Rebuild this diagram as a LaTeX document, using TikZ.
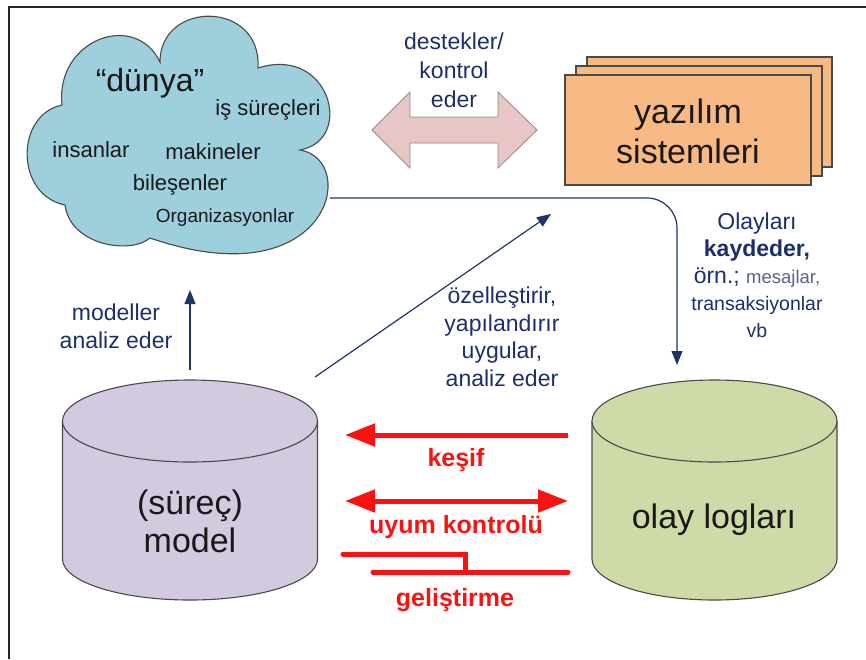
\documentclass[tikz,border=0pt]{standalone}
\usepackage{fontspec}
\setmainfont{Liberation Sans}
\usetikzlibrary{arrows.meta}

\definecolor{cloudblue}{HTML}{9DCFDC}
\definecolor{pinkfill}{HTML}{E8C6C6}
\definecolor{orangefill}{HTML}{F8BA84}
\definecolor{purplefill}{HTML}{D4CADF}
\definecolor{greenfill}{HTML}{CEDAA8}
\definecolor{navytxt}{HTML}{1C2E6C}
\definecolor{navyline}{HTML}{1F3566}
\definecolor{grayline}{HTML}{6C7699}
\definecolor{edge}{HTML}{4A4A4A}
\definecolor{redline}{HTML}{FF1010}

\begin{document}
\begin{tikzpicture}[x=1pt,y=-1pt,
  lbl/.style={text=navytxt, align=center, inner sep=0pt, font=\fontsize{23}{28}\selectfont},
  dark/.style={text=black!90, inner sep=0pt, align=center},
  redlbl/.style={text=redline, inner sep=0pt, font=\bfseries\fontsize{25}{30}\selectfont},
  navyarrow/.style={draw=navyline, line width=1.2pt, -{Triangle[length=14pt,width=11pt]}},
  redarrow/.style={draw=redline, line width=5pt},
  redtip/.style={{Triangle[length=30pt,width=22pt]}},
  boxedge/.style={draw=edge, line width=1.1pt},
]
\useasboundingbox (0,0) rectangle (866,659);

% frame lines at the top and left
\draw[black!85, line width=1.6pt] (866,7) -- (9,7) -- (9,659);

% the "world" cloud
\draw[boxedge, fill=cloudblue]
  (62,105) .. controls (55,40) and (135,10) .. (160,62)
  .. controls (160,0) and (262,0) .. (258,68)
  .. controls (330,45) and (355,140) .. (300,150)
  .. controls (360,160) and (330,300) .. (150,238)
  .. controls (130,255) and (70,245) .. (65,205)
  .. controls (15,195) and (15,115) .. (62,105) -- cycle;
\node[dark, font=\fontsize{32}{36}\selectfont] (dunya) at (150,83) {“dünya”};
\node[dark, font=\fontsize{22}{26}\selectfont] (surec) at (268,110) {iş süreçleri};
\node[dark, font=\fontsize{22}{26}\selectfont] (insan) at (91,150) {insanlar};
\node[dark, font=\fontsize{22}{26}\selectfont] (makine) at (213,152) {makineler};
\node[dark, font=\fontsize{22}{26}\selectfont] (bilesen) at (180,185) {bileşenler};
\node[dark, font=\fontsize{19}{23}\selectfont] (organ) at (225,218) {Organizasyonlar};
\coordinate (cloudbot) at (190,290);
\coordinate (cloudout) at (330,198);

% double arrow between world and software
\draw[draw=black!45, line width=0.8pt, fill=pinkfill]
  (372,130) -- (410,92) -- (410,117) -- (498,117) -- (498,92) -- (537,130)
  -- (498,168) -- (498,143) -- (410,143) -- (410,168) -- cycle;
\node[lbl, font=\fontsize{23}{29}\selectfont] (destek) at (454,70) {destekler/\\kontrol\\eder};

% stacked software boxes
\draw[boxedge, fill=orangefill] (587,57) rectangle (832,167);
\draw[boxedge, fill=orangefill] (576,66) rectangle (822,176);
\draw[boxedge, fill=orangefill] (565,75) rectangle (811,185);
\node[dark, font=\fontsize{34}{40}\selectfont] (yazilim) at (688,131) {yazılım\\sistemleri};

% process model cylinder
\fill[purplefill] (62.5,421) rectangle (317.5,559);
\fill[purplefill] (190,559) ellipse[x radius=127.5, y radius=41];
\draw[boxedge] (317.5,421) -- (317.5,559) arc[start angle=0, end angle=180, x radius=127.5, y radius=41] -- (62.5,421);
\draw[boxedge, fill=purplefill] (190,421) ellipse[x radius=127.5, y radius=41];
\node[dark, font=\fontsize{34}{38}\selectfont] (model) at (190,521) {(süreç)\\model};
\coordinate (modeltop) at (190,370);
\coordinate (modelcorner) at (315,377);

% event log cylinder
\fill[greenfill] (592,421) rectangle (837,559);
\fill[greenfill] (714.5,559) ellipse[x radius=122.5, y radius=41];
\draw[boxedge] (837,421) -- (837,559) arc[start angle=0, end angle=180, x radius=122.5, y radius=41] -- (592,421);
\draw[boxedge, fill=greenfill] (714.5,421) ellipse[x radius=122.5, y radius=41];
\node[dark, font=\fontsize{34}{38}\selectfont] (logs) at (714,520) {olay logları};
\coordinate (logstop) at (677,365);

% navy connectors
\draw[navyarrow] (modeltop) -- (cloudbot);
\node[lbl] (modeller) at (116,326) {modeller\\analiz eder};
\coordinate (diagend) at (551,214);
\draw[navyarrow] (modelcorner) -- (diagend);
\node[lbl, font=\fontsize{23}{27.5}\selectfont] (ozel) at (502,337) {özelleştirir,\\yapılandırır\\uygular,\\analiz eder};
\draw[draw=grayline, line width=1.2pt, rounded corners=30pt, -{Triangle[length=14pt,width=11pt]}, navyline]
  (cloudout) -| (logstop);
\node[lbl, font=\fontsize{23}{27}\selectfont] (olay) at (757,275)
  {Olayları\\\textbf{kaydeder,}\\örn.; {\color{navytxt!75}\fontsize{18.5}{27}\selectfont mesajlar,}\\{\fontsize{19.5}{25}\selectfont transaksiyonlar}\\{\fontsize{19.5}{25}\selectfont vb}};

% red arrows: discovery, conformance, enhancement
\coordinate (kesR) at (568,435);
\coordinate (kesL) at (345,435);
\draw[redarrow, -{Triangle[length=30pt,width=22pt]}] (kesR) -- (kesL);
\node[redlbl] (kesif) at (456,460) {keşif};
\coordinate (uyL) at (345,501);
\coordinate (uyR) at (568,501);
\draw[redarrow, {Triangle[length=30pt,width=22pt]}-{Triangle[length=30pt,width=22pt]}] (uyL) -- (uyR);
\node[redlbl] (uyum) at (456,527) {uyum kontrolü};
\coordinate (gelA) at (343,554);
\coordinate (gelB) at (465,554);
\coordinate (gelC) at (373,572);
\coordinate (gelD) at (568,572);
\draw[redarrow, line cap=round] (gelA) -- (gelB) -- (gelB |- gelC);
\draw[redarrow, line cap=round] (gelC) -- (gelD);
\node[redlbl] (gelis) at (455,600) {geliştirme};
\end{tikzpicture}
\end{document}
